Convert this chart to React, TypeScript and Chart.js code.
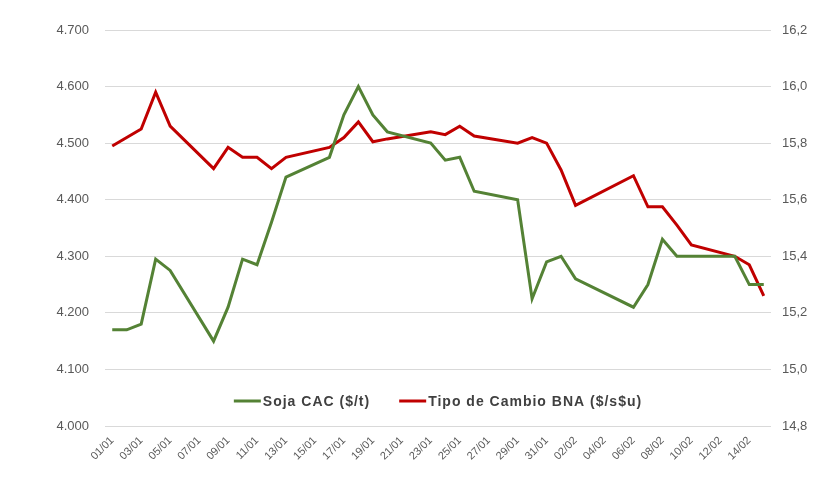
import React, { useEffect, useRef } from "react";
import { Chart, registerables } from "chart.js";

Chart.register(...registerables);

const pointDates = [
  "01/01", "02/01", "03/01", "04/01", "05/01",
  "08/01", "09/01", "10/01", "11/01", "12/01", "13/01",
  "16/01", "17/01", "18/01", "19/01", "20/01",
  "23/01", "24/01", "25/01", "26/01",
  "29/01", "30/01", "31/01", "01/02", "02/02",
  "06/02", "07/02", "08/02", "09/02", "10/02",
  "13/02", "14/02", "15/02",
];

const sojaValues = [
  4170, 4170, 4180, 4295, 4275,
  4150, 4210, 4295, 4285, 4360, 4440,
  4475, 4550, 4600, 4550, 4520,
  4500, 4470, 4475, 4415,
  4400, 4225, 4290, 4300, 4260,
  4210, 4250, 4330, 4300, 4300,
  4300, 4250, 4250,
];

const tipoCambioValues = [
  15.79, 15.82, 15.85, 15.98, 15.86,
  15.71, 15.785, 15.75, 15.75, 15.71, 15.75,
  15.785, 15.82, 15.875, 15.805, 15.815,
  15.84, 15.83, 15.86, 15.825,
  15.8, 15.82, 15.8, 15.705, 15.58,
  15.685, 15.575, 15.575, 15.51, 15.44,
  15.4, 15.37, 15.26,
];

const tickLabels = [
  "01/01", "03/01", "05/01", "07/01", "09/01", "11/01", "13/01", "15/01",
  "17/01", "19/01", "21/01", "23/01", "25/01", "27/01", "29/01", "31/01",
  "02/02", "04/02", "06/02", "08/02", "10/02", "12/02", "14/02",
];

const axisStartDate = "01/01";
const axisEndDate = "15/02";

const seriesNames = ["Soja CAC ($/t)", "Tipo de Cambio BNA ($/s$u)"];
const seriesColors = ["#548235", "#c00000"];

const monthOffsets = [0, 31, 59];
function dayIndex(s: string): number {
  const [d, m] = s.split("/").map(Number);
  return monthOffsets[m - 1] + d - 1;
}

function fmtThousands(v: number): string {
  return String(Math.round(v)).replace(/\B(?=(\d{3})+(?!\d))/g, ".");
}

const legendPlugin = {
  id: "customLegend",
  afterDraw(chart: any) {
    const { ctx, chartArea } = chart;
    ctx.save();
    ctx.font = "bold 14px 'Liberation Sans', Arial, sans-serif";
    (ctx as any).letterSpacing = "1px";
    const lineLen = 27;
    const gapLineText = 2;
    const gapItems = 29;
    const widths = seriesNames.map((n) => ctx.measureText(n).width);
    const total =
      widths.reduce((a, b) => a + b, 0) +
      seriesNames.length * (lineLen + gapLineText) +
      gapItems * (seriesNames.length - 1);
    let x = (chartArea.left + chartArea.right) / 2 - total / 2;
    const y = chartArea.bottom - 25;
    seriesNames.forEach((name, i) => {
      ctx.strokeStyle = seriesColors[i];
      ctx.lineWidth = 3;
      ctx.beginPath();
      ctx.moveTo(x, y);
      ctx.lineTo(x + lineLen, y);
      ctx.stroke();
      x += lineLen + gapLineText;
      ctx.fillStyle = "#404040";
      ctx.textBaseline = "middle";
      ctx.textAlign = "left";
      ctx.fillText(name, x, y + 1);
      x += widths[i] + gapItems;
    });
    ctx.restore();
  },
};

export default function App() {
  const canvasRef = useRef<HTMLCanvasElement | null>(null);

  useEffect(() => {
    document.body.style.margin = "0";
    const canvas = canvasRef.current;
    if (!canvas) return;
    const xs = pointDates.map(dayIndex);
    const chart = new Chart(canvas, {
      type: "line",
      data: {
        datasets: [
          {
            label: seriesNames[0],
            data: xs.map((x, i) => ({ x, y: sojaValues[i] })),
            borderColor: seriesColors[0],
            backgroundColor: seriesColors[0],
            borderWidth: 3,
            pointRadius: 0,
            tension: 0,
            yAxisID: "y",
          },
          {
            label: seriesNames[1],
            data: xs.map((x, i) => ({ x, y: tipoCambioValues[i] })),
            borderColor: seriesColors[1],
            backgroundColor: seriesColors[1],
            borderWidth: 3,
            pointRadius: 0,
            tension: 0,
            yAxisID: "y1",
          },
        ],
      },
      options: {
        animation: false,
        responsive: false,
        maintainAspectRatio: false,
        layout: { padding: { top: 30, left: 0, right: 0, bottom: 0 } },
        plugins: {
          legend: { display: false },
          tooltip: { enabled: false },
        },
        scales: {
          x: {
            type: "linear",
            min: dayIndex(axisStartDate) - 0.5,
            max: dayIndex(axisEndDate) + 0.5,
            grid: { display: false, drawTicks: false },
            border: { display: false },
            afterBuildTicks(scale: any) {
              scale.ticks = tickLabels.map((l) => ({ value: dayIndex(l) }));
            },
            afterFit(scale: any) {
              scale.height = 62;
            },
            ticks: {
              autoSkip: false,
              minRotation: 45,
              maxRotation: 45,
              padding: 8,
              color: "#595959",
              font: { family: "'Liberation Sans', Arial, sans-serif", size: 11 },
              callback: (_v: any, i: number) => tickLabels[i],
            },
          },
          y: {
            position: "left",
            min: 4000,
            max: 4700,
            grid: { color: "#d9d9d9", lineWidth: 1, drawTicks: false },
            border: { display: false },
            afterFit(scale: any) {
              scale.width = 105;
            },
            ticks: {
              stepSize: 100,
              padding: 16,
              color: "#595959",
              font: { family: "'Liberation Sans', Arial, sans-serif", size: 13 },
              callback: (v: any) => fmtThousands(Number(v)),
            },
          },
          y1: {
            position: "right",
            min: 14.8,
            max: 16.2,
            grid: { display: false, drawTicks: false },
            border: { display: false },
            afterFit(scale: any) {
              scale.width = 57;
            },
            ticks: {
              stepSize: 0.2,
              padding: 11,
              color: "#595959",
              font: { family: "'Liberation Sans', Arial, sans-serif", size: 13 },
              callback: (v: any) => Number(v).toFixed(1).replace(".", ","),
            },
          },
        },
      },
      plugins: [legendPlugin],
    });
    return () => chart.destroy();
  }, []);

  return (
    <div style={{ width: 828, height: 488, background: "#ffffff" }}>
      <canvas ref={canvasRef} width={828} height={488} />
    </div>
  );
}
